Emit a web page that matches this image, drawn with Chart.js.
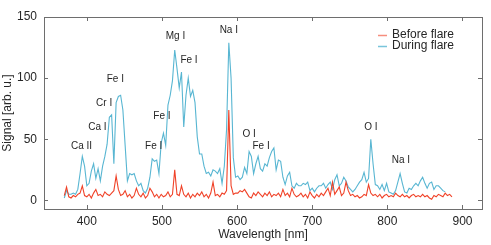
<!DOCTYPE html>
<html>
<head>
<meta charset="utf-8">
<script src="https://cdn.jsdelivr.net/npm/chart.js@4"></script>
<style>
  html, body { margin: 0; padding: 0; background: #fff; }
  #wrap { width: 491px; height: 245px; }
</style>
</head>
<body>
<div id="wrap"><canvas id="spec" width="491" height="245"></canvas></div>
<script>
// ── Data ────────────────────────────────────────────────────────────────
const wavelengths = [
  370, 373, 376, 379, 382, 385, 388, 391, 394, 397,
  400, 403, 406, 409, 412, 415, 418, 421, 424, 427,
  430, 433, 436, 439, 442, 445, 448, 451, 454, 457,
  460, 463, 466, 469, 472, 475, 478, 481, 484, 487,
  490, 493, 496, 499, 502, 505, 508, 511, 514, 517,
  520, 523, 526, 529, 532, 535, 538, 541, 544, 547,
  550, 553, 556, 559, 562, 565, 568, 571, 574, 577,
  580, 583, 586, 589, 592, 595, 598, 601, 604, 607,
  610, 613, 616, 619, 622, 625, 628, 631, 634, 637,
  640, 643, 646, 649, 652, 655, 658, 661, 664, 667,
  670, 673, 676, 679, 682, 685, 688, 691, 694, 697,
  700, 703, 706, 709, 712, 715, 718, 721, 724, 727,
  730, 733, 736, 739, 742, 745, 748, 751, 754, 757,
  760, 763, 766, 769, 772, 775, 778, 781, 784, 787,
  790, 793, 796, 799, 802, 805, 808, 811, 814, 817,
  820, 823, 826, 829, 832, 835, 838, 841, 844, 847,
  850, 853, 856, 859, 862, 865, 868, 871, 874, 877,
  880, 883, 886
];

const beforeFlare = [
  4, 11, 3, 2, 4, 3, 5, 6, 12, 4,
  3, 5, 2, 6, 9, 4, 5, 3, 7, 5,
  4, 6, 8, 20, 9, 4, 5, 8, 3, 5,
  2, 4, 10, 5, 3, 6, 2, 4, 10, 7,
  3, 5, 2, 5, 3, 4, 7, 3, 5, 25,
  5, 4, 12, 5, 3, 6, 2, 5, 3, 6,
  4, 7, 3, 5, 2, 6, 15, 4, 5, 3,
  6, 5, 8, 74, 12, 5, 6, 6, 8, 7,
  9, 6, 3, 2, 6, 4, 7, 5, 3, 6,
  4, 7, 3, 5, 4, 6, 3, 9, 4, 6,
  3, 10, 5, 3, 4, 6, 3, 5, 2, 7,
  4, 2, 5, 3, 6, 4, 7, 10, 4, 15,
  5, 8, 11, 4, 6, 15, 8, 4, 5, 3,
  4, 2, 3, 5, 4, 13, 6, 4, 5, 3,
  5, 2, 4, 5, 3, 4, 3, 6, 4, 3,
  5, 3, 4, 2, 4, 5, 3, 4, 3, 5,
  3, 4, 2, 1, 4, 3, 5, 4, 3, 6,
  4, 5, 3
];

// stops at 877 nm
const duringFlare = [
  2, 8, 5, 5, 6, 5, 9, 22, 36, 28,
  12, 14, 24, 30, 18, 26, 16, 28, 36, 46,
  68, 70, 30, 80, 85, 86, 74, 45, 16, 22,
  21, 22, 16, 12, 14, 8, 6, 10, 19, 34,
  32, 33, 22, 47, 55, 45, 78, 86, 98, 123,
  108, 92, 105, 60, 86, 100, 85, 90, 80, 52,
  38, 38, 28, 22, 23, 20, 25, 24, 22, 26,
  14, 28, 58, 129, 100, 35, 19, 20, 17, 19,
  27, 22, 40, 36, 22, 30, 36, 26, 24, 30,
  28, 35, 40, 43, 25, 33, 32, 19, 13, 20,
  23, 12, 10, 14, 12, 12, 14, 13, 15, 8,
  10, 7, 10, 12, 12, 14, 10, 13, 15, 9,
  17, 21, 12, 14, 19, 16, 11, 9, 7, 9,
  12, 15, 17, 23, 15, 18, 50, 30, 13, 12,
  9, 13, 8, 14, 7, 6, 5, 8, 15, 22,
  14, 7, 6, 10, 9, 12, 14, 12, 16, 19,
  14, 10, 14, 15, 9, 12, 12, 10, 8, 7
];

const xTicks = [400, 500, 600, 700, 800, 900];
const yTicks = [0, 50, 100, 150];

// line labels: text, wavelength, signal
const lineNames = ['Ca II', 'Ca I', 'Cr I', 'Fe I', 'Fe I', 'Fe I', 'Mg I', 'Fe I', 'Na I', 'O I', 'Fe I', 'O I', 'Na I'];
const lineWl    = [393, 414, 423, 438, 489, 500, 518, 536, 589, 616, 632, 778, 818];
const lineSig   = [44.5, 60, 79.5, 99.5, 44.5, 69, 134.5, 114.5, 139, 54, 44.5, 60, 32.5];

// ── Style ───────────────────────────────────────────────────────────────
const FONT = "'Liberation Sans', Arial, Helvetica, sans-serif";
const RED = 'rgb(240, 66, 40)';
const BLUE = 'rgb(88, 182, 210)';
const FRAME = '#6e6e6e';
const TEXT = '#262626';

const toPoints = (ys) => ys.map((y, i) => ({ x: wavelengths[i], y }));

// frame, inward ticks, line labels, legend
const decorations = {
  id: 'decorations',
  afterDatasetsDraw(chart) {
    const { ctx, chartArea: a, scales: { x, y } } = chart;
    ctx.save();
    ctx.strokeStyle = FRAME;
    ctx.lineWidth = 1;
    ctx.strokeRect(Math.round(a.left) + 0.5, Math.round(a.top) + 0.5,
      Math.round(a.right - a.left), Math.round(a.bottom - a.top));

    const tl = 4;
    ctx.beginPath();
    xTicks.forEach(v => {
      const px = Math.round(x.getPixelForValue(v)) + 0.5;
      ctx.moveTo(px, a.bottom); ctx.lineTo(px, a.bottom - tl);
      ctx.moveTo(px, a.top); ctx.lineTo(px, a.top + tl);
    });
    yTicks.forEach(v => {
      const py = Math.round(y.getPixelForValue(v)) + 0.5;
      ctx.moveTo(a.left, py); ctx.lineTo(a.left + tl, py);
      ctx.moveTo(a.right, py); ctx.lineTo(a.right - tl, py);
    });
    ctx.stroke();

    // element labels
    ctx.fillStyle = TEXT;
    ctx.font = '10px ' + FONT;
    ctx.textAlign = 'center';
    ctx.textBaseline = 'middle';
    lineNames.forEach((t, i) => {
      ctx.fillText(t, x.getPixelForValue(lineWl[i]), y.getPixelForValue(lineSig[i]));
    });

    // legend
    ctx.font = '12px ' + FONT;
    ctx.textAlign = 'left';
    const lx = 378, ly = 35;
    chart.data.datasets.forEach((ds, i) => {
      const yy = ly + i * 11;
      ctx.strokeStyle = ds.legendColor;
      ctx.lineWidth = 1.5;
      ctx.beginPath();
      ctx.moveTo(lx, yy + 0.5); ctx.lineTo(lx + 9, yy + 0.5);
      ctx.stroke();
      ctx.fillStyle = TEXT;
      ctx.fillText(ds.label, lx + 14, yy);
    });
    ctx.restore();
  }
};

new Chart(document.getElementById('spec'), {
  type: 'line',
  data: {
    datasets: [
      {
        label: 'Before flare',
        data: toPoints(beforeFlare),
        borderColor: RED,
        legendColor: 'rgba(240, 66, 40, 0.6)',
        borderWidth: 1.1,
        pointRadius: 0,
        tension: 0,
        order: 1
      },
      {
        label: 'During flare',
        data: toPoints(duringFlare),
        borderColor: BLUE,
        legendColor: 'rgba(88, 182, 210, 0.8)',
        borderWidth: 1.1,
        pointRadius: 0,
        tension: 0,
        order: 2
      }
    ]
  },
  options: {
    responsive: false,
    animation: false,
    events: [],
    layout: { padding: { left: 0, right: 9, top: 17, bottom: 0 } },
    plugins: {
      legend: { display: false },
      tooltip: { enabled: false }
    },
    scales: {
      x: {
        type: 'linear',
        min: 343,
        max: 926,
        afterBuildTicks: s => { s.ticks = xTicks.map(v => ({ value: v })); },
        afterFit: s => { s.height = 36; },
        grid: { display: false, drawTicks: false },
        border: { display: false },
        ticks: { color: TEXT, font: { family: FONT, size: 12 }, padding: 5, maxRotation: 0 },
        title: { display: true, text: 'Wavelength [nm]', color: TEXT,
                 font: { family: FONT, size: 12 }, padding: { top: 0, bottom: 3 } }
      },
      y: {
        min: -7,
        max: 150,
        afterBuildTicks: s => { s.ticks = yTicks.map(v => ({ value: v })); },
        afterFit: s => { s.width = 44; },
        grid: { display: false, drawTicks: false },
        border: { display: false },
        ticks: { color: TEXT, font: { family: FONT, size: 12 }, padding: 7 },
        title: { display: true, text: 'Signal [arb. u.]', color: TEXT,
                 font: { family: FONT, size: 12 }, padding: { top: 0, bottom: 2 } }
      }
    }
  },
  plugins: [decorations]
});
</script>
</body>
</html>
